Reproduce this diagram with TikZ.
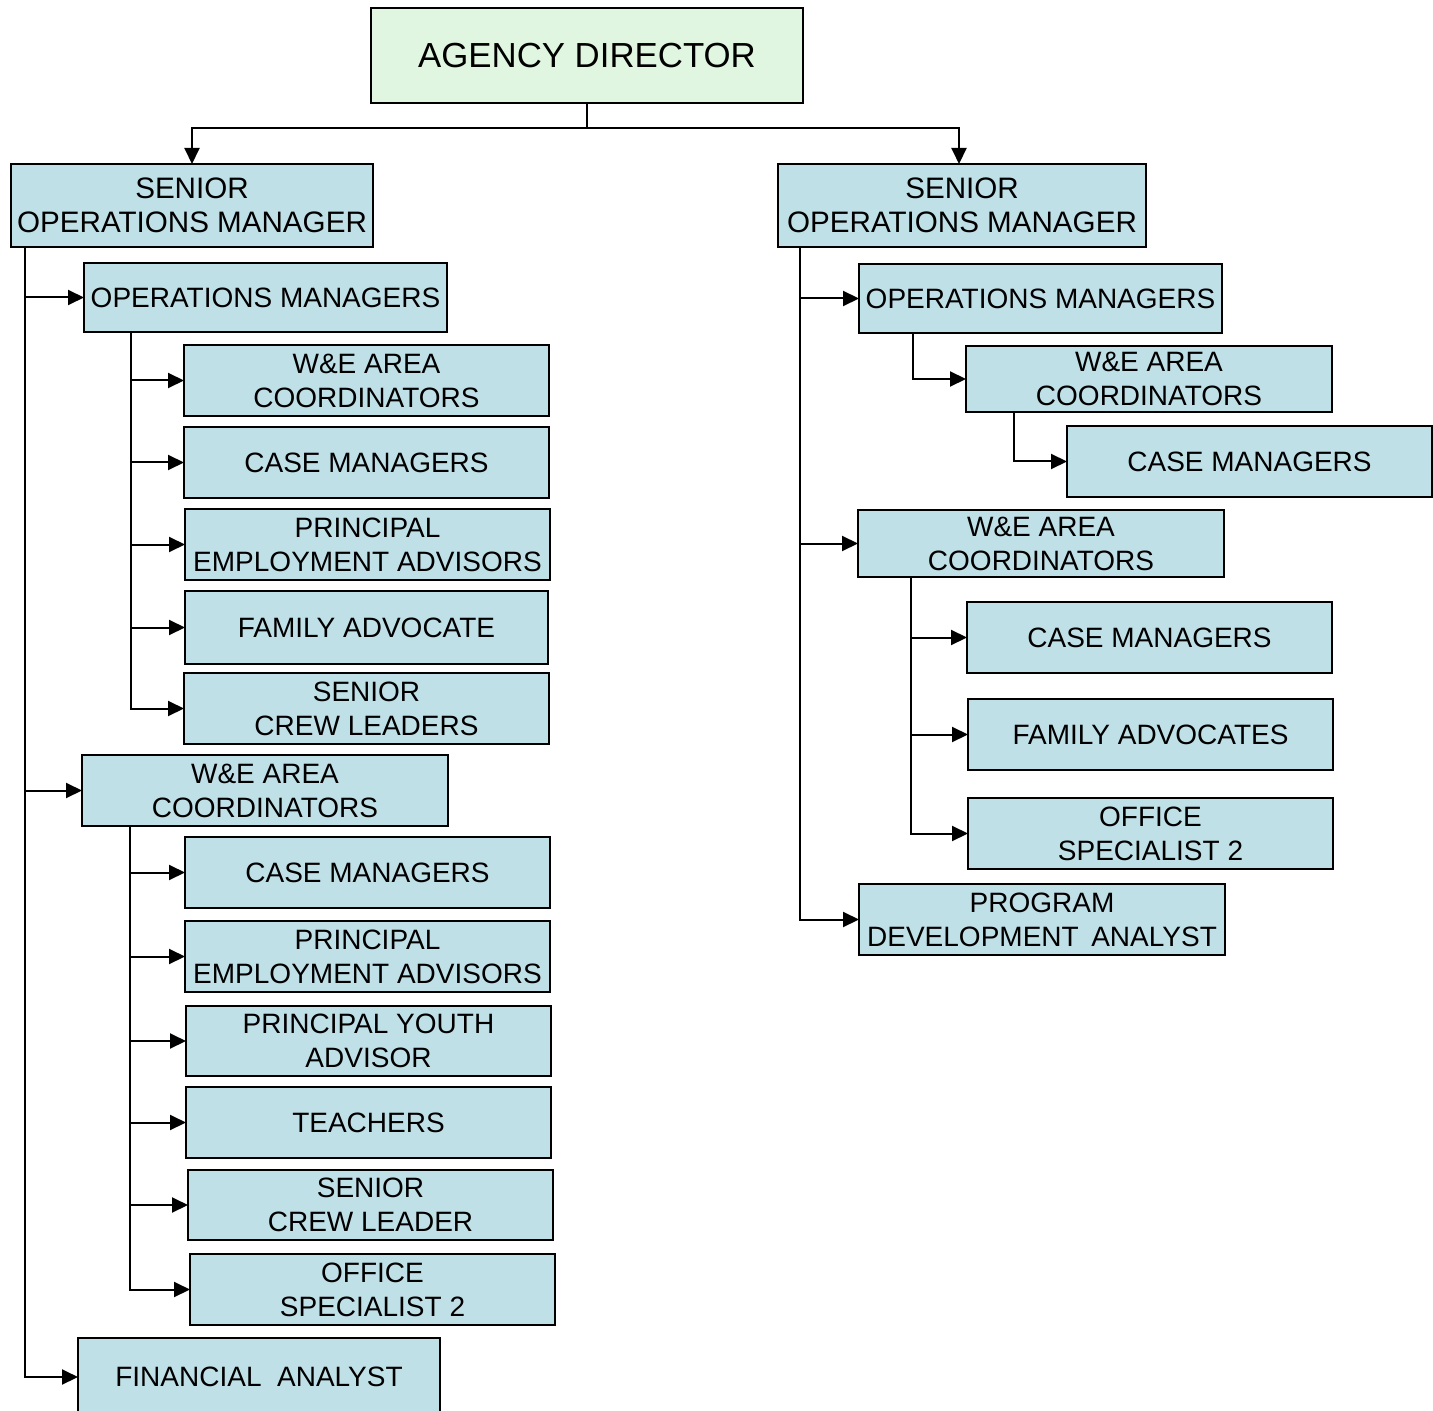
\documentclass[tikz,border=0pt]{standalone}
\usepackage{fontspec}
\setmainfont{Liberation Sans}
\usetikzlibrary{arrows.meta}
\definecolor{boxblue}{RGB}{192,224,232}
\definecolor{boxgreen}{RGB}{224,246,224}

% box given by its corners (x1,y1) (x2,y2), in a grid of half points
\newcommand\orgbox[7][box]{%
  \node[#1, minimum width={(#5-#3)*0.5pt}, minimum height={(#6-#4)*0.5pt}]
    (#2) at ({(#3+#5)/2},{(#4+#6)/2}) {#7};}

\begin{document}
\begin{tikzpicture}[x=0.5pt,y=-0.5pt,
  box/.style={draw=black, line width=1pt, fill=boxblue, rectangle,
    inner sep=0pt, outer sep=0pt, align=center,
    font=\fontsize{14}{17}\selectfont},
  headbox/.style={box, font=\fontsize{14.8}{17}\selectfont},
  topbox/.style={box, fill=boxgreen, font=\fontsize{17.4}{20}\selectfont},
  link/.style={line width=1pt, line join=miter},
  arr/.style={link, -{Triangle[length=8pt,width=7.5pt]}}]
\useasboundingbox (0,0) rectangle (1433,1411);

% top of the chart
\orgbox[topbox]{dir}{371}{8}{803}{103}{AGENCY DIRECTOR}
\orgbox[headbox]{somL}{11}{164}{373}{247}{SENIOR\\OPERATIONS MANAGER}
\orgbox[headbox]{somR}{778}{164}{1146}{247}{SENIOR\\OPERATIONS MANAGER}

% left branch
\orgbox{opsL}{84}{263}{447}{332}{OPERATIONS MANAGERS}
\orgbox{weLa}{184}{345}{549}{416}{W\&E AREA\\COORDINATORS}
\orgbox{cmLa}{184}{427}{549}{498}{CASE MANAGERS}
\orgbox{peaLa}{185}{509}{550}{580}{PRINCIPAL\\EMPLOYMENT ADVISORS}
\orgbox{faL}{185}{591}{548}{664}{FAMILY ADVOCATE}
\orgbox{sclLa}{184}{673}{549}{744}{SENIOR\\CREW LEADERS}

\orgbox{weL}{82}{755}{448}{826}{W\&E AREA\\COORDINATORS}
\orgbox{cmLb}{185}{837}{550}{908}{CASE MANAGERS}
\orgbox{peaLb}{185}{921}{550}{992}{PRINCIPAL\\EMPLOYMENT ADVISORS}
\orgbox{pya}{186}{1006}{551}{1076}{PRINCIPAL YOUTH\\ADVISOR}
\orgbox{tch}{186}{1087}{551}{1158}{TEACHERS}
\orgbox{sclLb}{188}{1170}{553}{1240}{SENIOR\\CREW LEADER}
\orgbox{osL}{190}{1254}{555}{1325}{OFFICE\\SPECIALIST 2}

\orgbox{fin}{78}{1338}{440}{1416}{FINANCIAL\ \ ANALYST}

% right branch
\orgbox{opsR}{859}{264}{1222}{333}{OPERATIONS MANAGERS}
\orgbox{weRa}{966}{346}{1332}{412}{W\&E AREA\\COORDINATORS}
\orgbox{cmRa}{1067}{426}{1432}{497}{CASE MANAGERS}

\orgbox{weR}{858}{510}{1224}{577}{W\&E AREA\\COORDINATORS}
\orgbox{cmRb}{967}{602}{1332}{673}{CASE MANAGERS}
\orgbox{faR}{968}{699}{1333}{770}{FAMILY ADVOCATES}
\orgbox{osR}{968}{798}{1333}{869}{OFFICE\\SPECIALIST 2}

\orgbox{pda}{859}{884}{1225}{955}{PROGRAM\\DEVELOPMENT\hspace{0.45em}ANALYST}

% connectors
\draw[link] (dir.south) -- ++(0,25) coordinate (split);
\draw[arr] (split) -| (somL.north);
\draw[arr] (split) -| ([xshift=-1.5pt]somR.north);

\foreach \c in {opsL, weL, fin}
  \draw[arr] (somL.south west) ++(14,0) |- (\c.west);
\foreach \c in {weLa, cmLa, peaLa, faL, sclLa}
  \draw[arr] (opsL.south west) ++(47,0) |- (\c.west);
\foreach \c in {cmLb, peaLb, pya, tch, sclLb, osL}
  \draw[arr] (weL.south west) ++(48,0) |- (\c.west);

\foreach \c in {opsR, weR, pda}
  \draw[arr] (somR.south west) ++(22,0) |- (\c.west);
\draw[arr] (opsR.south west) ++(54,0) |- (weRa.west);
\draw[arr] (weRa.south west) ++(48,0) |- (cmRa.west);
\foreach \c in {cmRb, faR, osR}
  \draw[arr] (weR.south west) ++(53,0) |- (\c.west);
\end{tikzpicture}
\end{document}
